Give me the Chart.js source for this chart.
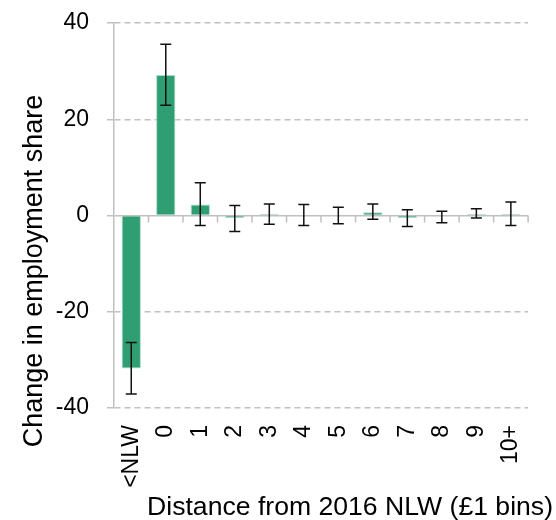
<!DOCTYPE html>
<html>
<head>
<meta charset="utf-8">
<script src="https://cdn.jsdelivr.net/npm/chart.js@4.4.1/dist/chart.umd.min.js"></script>
<style>
  html, body { margin: 0; padding: 0; background: #fff; }
</style>
</head>
<body>
<canvas id="chart" width="556" height="520"></canvas>
<script>
const bins = ['<NLW', '0', '1', '2', '3', '4', '5', '6', '7', '8', '9', '10+'];
const shareChange = [-31.8, 29.2, 2.3, -0.5, 0.3, 0.0, 0.0, 0.7, -0.5, -0.2, 0.3, 0.3];
const ciLow = [-37.1, 22.9, -2.1, -3.3, -1.8, -2.1, -1.7, -0.8, -2.3, -1.5, -0.5, -2.1];
const ciHigh = [-26.4, 35.6, 6.8, 2.1, 2.4, 2.3, 1.7, 2.4, 1.2, 0.9, 1.4, 2.8];
const yTicks = [-40, -20, 0, 20, 40];

const FONT = 'Liberation Sans, Arial, sans-serif';
const GREY = '#c0c0c0';

// error bars, zero-line ticks and the two axis titles
const extras = {
  id: 'extras',
  afterDatasetsDraw(chart) {
    const ctx = chart.ctx;
    const y = chart.scales.y;
    const area = chart.chartArea;
    const meta = chart.getDatasetMeta(0);

    // ticks hanging off the zero line at category boundaries
    const y0 = y.getPixelForValue(0);
    const step = (area.right - area.left) / bins.length;
    ctx.save();
    ctx.strokeStyle = GREY;
    ctx.lineWidth = 1.5;
    ctx.beginPath();
    for (let i = 1; i <= bins.length; i++) {
      const x = area.left + i * step;
      ctx.moveTo(x, y0);
      ctx.lineTo(x, y0 + 7);
    }
    ctx.stroke();

    ctx.strokeStyle = '#111';
    ctx.lineWidth = 1.5;
    meta.data.forEach((bar, i) => {
      const hi = y.getPixelForValue(ciHigh[i]);
      const lo = y.getPixelForValue(ciLow[i]);
      ctx.beginPath();
      ctx.moveTo(bar.x, hi);
      ctx.lineTo(bar.x, lo);
      ctx.moveTo(bar.x - 5.5, hi);
      ctx.lineTo(bar.x + 5.5, hi);
      ctx.moveTo(bar.x - 5.5, lo);
      ctx.lineTo(bar.x + 5.5, lo);
      ctx.stroke();
    });

    ctx.fillStyle = '#000';
    ctx.font = '26.6px ' + FONT;
    ctx.textBaseline = 'alphabetic';
    ctx.textAlign = 'right';
    ctx.fillText('Distance from 2016 NLW (£1 bins)', 553, 515);

    ctx.font = '27px ' + FONT;
    ctx.translate(42, 271);
    ctx.rotate(-Math.PI / 2);
    ctx.textAlign = 'center';
    ctx.fillText('Change in employment share', 0, 0);
    ctx.restore();
  }
};

new Chart(document.getElementById('chart'), {
  type: 'bar',
  data: {
    labels: bins,
    datasets: [{
      data: shareChange,
      backgroundColor: '#2f9e72',
      borderColor: '#a9dcc6',
      borderWidth: 1,
      barPercentage: 0.56,
      categoryPercentage: 1
    }]
  },
  options: {
    responsive: false,
    animation: false,
    layout: { padding: { top: 23, right: 13, left: 0, bottom: 0 } },
    plugins: {
      legend: { display: false },
      tooltip: { enabled: false }
    },
    scales: {
      x: {
        grid: { display: false, drawTicks: false },
        border: { display: false },
        ticks: {
          autoSkip: false,
          minRotation: 90,
          maxRotation: 90,
          padding: 17,
          color: '#000',
          font: { family: FONT, size: 23 }
        },
        afterFit(scale) { scale.height = 112; }
      },
      y: {
        min: -40,
        max: 40,
        afterBuildTicks(scale) { scale.ticks = yTicks.map(v => ({ value: v })); },
        grid: {
          color: GREY,
          lineWidth: 1.5,
          tickLength: 7,
          tickColor: GREY
        },
        border: {
          display: true,
          color: GREY,
          width: 1.5,
          dash: ctx => (ctx.tick && ctx.tick.value !== 0 ? [6, 4] : [])
        },
        ticks: {
          padding: 18,
          color: '#000',
          font: { family: FONT, size: 23 }
        },
        afterFit(scale) {
          scale.width = 114;
          scale.paddingTop = 0;
          scale.paddingBottom = 0;
        }
      }
    }
  },
  plugins: [extras]
});
</script>
</body>
</html>
